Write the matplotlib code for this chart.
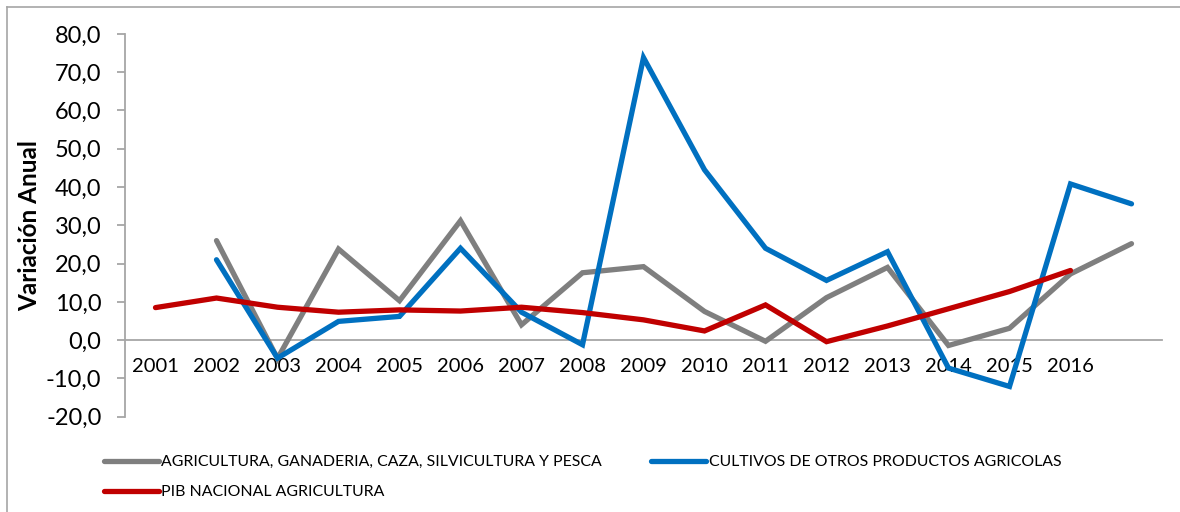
import matplotlib
matplotlib.use("Agg")
import matplotlib.pyplot as plt
from matplotlib.lines import Line2D
from matplotlib.ticker import FuncFormatter

plt.rcParams['font.family'] = ['Lato', 'DejaVu Sans']

years = ["2001", "2002", "2003", "2004", "2005", "2006", "2007", "2008",
         "2009", "2010", "2011", "2012", "2013", "2014", "2015", "2016", ""]
agricultura = [None, 26.0, -4.8, 23.8, 10.3, 31.2, 4.0, 17.6, 19.2, 7.5, -0.3,
               11.1, 19.0, -1.4, 3.1, 17.3, 25.2]
cultivos = [None, 21.0, -4.7, 4.9, 6.2, 24.0, 7.3, -1.2, 73.8, 44.5, 24.0,
            15.6, 23.1, -7.3, -12.1, 40.8, 35.6]
pib = [8.5, 11.0, 8.6, 7.3, 7.9, 7.6, 8.6, 7.2, 5.3, 2.4, 9.2, -0.4, 3.7,
       8.2, 12.7, 18.2, None]

names = ["AGRICULTURA, GANADERIA, CAZA, SILVICULTURA Y PESCA",
         "CULTIVOS DE OTROS PRODUCTOS AGRICOLAS",
         "PIB NACIONAL AGRICULTURA"]
colors = ["#7F7F7F", "#0070C0", "#C00000"]

fig = plt.figure(figsize=(11.8, 5.12), dpi=100)
ax = fig.add_axes([125/1180, 1 - 416.7/512, (1162-125)/1180, (416.7-33.9)/512])

x = list(range(1, len(years) + 1))
lw = 3.8
for series, c in zip([agricultura, cultivos, pib], colors):
    xs = [xi for xi, v in zip(x, series) if v is not None]
    ys = [v for v in series if v is not None]
    ax.plot(xs, ys, color=c, lw=lw, solid_capstyle='round', solid_joinstyle='miter', zorder=3)

ax.set_xlim(0.5, len(years) + 0.5)
ax.set_ylim(-20, 80)
ax.set_yticks(range(-20, 81, 10))
ax.yaxis.set_major_formatter(FuncFormatter(lambda v, p: f"{v:.1f}".replace(".", ",")))
ax.set_xticks(x)
ax.set_xticklabels(years)

for s in ['top', 'right']:
    ax.spines[s].set_visible(False)
ax.spines['left'].set_color('#A6A6A6')
ax.spines['left'].set_linewidth(1.3)
ax.spines['bottom'].set_position(('data', 0))
ax.spines['bottom'].set_color('#A6A6A6')
ax.spines['bottom'].set_linewidth(1.3)

ax.tick_params(axis='y', length=6, width=1.3, color='#A6A6A6', labelsize=17, pad=11)
ax.tick_params(axis='x', length=0, labelsize=14.5, pad=13)

ax.set_ylabel("Variación Anual", fontsize=17.5, fontweight='bold', labelpad=3.5)

handles = [Line2D([], [], color=colors[0], lw=lw, solid_capstyle='round'),
           Line2D([], [], color=colors[2], lw=lw, solid_capstyle='round'),
           Line2D([], [], color=colors[1], lw=lw, solid_capstyle='round')]
labels = [names[0], names[2], names[1]]
fig.legend(handles, labels, loc='upper left', bbox_to_anchor=(104/1180, 1 - 455/512),
           ncol=2, frameon=False, fontsize=11.45, handlelength=3.45, handletextpad=0.15,
           columnspacing=3.1, labelspacing=1.0, borderaxespad=0, borderpad=0)

# chart area border (left and top edges visible)
fig.add_artist(Line2D([7/1180, 7/1180], [0, 1 - 7/512], transform=fig.transFigure,
                      color='#A6A6A6', lw=1.2))
fig.add_artist(Line2D([7/1180, 1], [1 - 7/512, 1 - 7/512], transform=fig.transFigure,
                      color='#A6A6A6', lw=1.2))

fig.savefig("out.png", dpi=100)
